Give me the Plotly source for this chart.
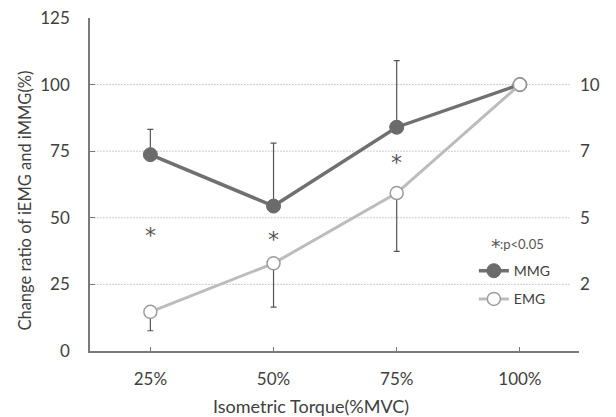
import plotly.graph_objects as go

categories = ["25%", "50%", "75%", "100%"]
mmg = [73.7, 54.4, 84.0, 100.0]
mmg_err_up = [9.5, 23.6, 25.0, 0.0]
emg = [14.7, 32.9, 59.3, 100.0]
emg_err_down = [7.1, 16.4, 21.9, 0.0]
sig_cats = ["25%", "50%", "75%"]
sig_y = [44.5, 42.9, 72.0]
left_ticks = [0, 25, 50, 75, 100, 125]
grid_vals = [25, 50, 75, 100]
right_tickvals = [25, 50, 75, 100]
right_ticktext = ["2", "5", "7", "10"]

FONT = "Lato"
TXT = "#404040"
AX = "#7a7a7a"

fig = go.Figure()
fig.add_trace(go.Scatter(
    x=categories, y=mmg, name="MMG", mode="lines+markers", legendgroup="a",
    line=dict(color="#707070", width=3.5),
    marker=dict(size=14, color="#6b6b6b", line=dict(color="#6b6b6b", width=1)),
    error_y=dict(type="data", symmetric=False, array=mmg_err_up,
                 arrayminus=[0, 0, 0, 0], color="#555555", thickness=1.2, width=3),
))
fig.add_trace(go.Scatter(
    x=categories, y=emg, name="EMG", mode="lines+markers", legendgroup="b",
    line=dict(color="#bcbcbc", width=3),
    marker=dict(size=13, color="white", line=dict(color="#9c9c9c", width=1.5)),
    error_y=dict(type="data", symmetric=False, array=[0, 0, 0, 0],
                 arrayminus=emg_err_down, color="#555555", thickness=1.2, width=3),
))
# invisible trace for right axis
fig.add_trace(go.Scatter(x=categories, y=mmg, yaxis="y2", mode="markers",
                         marker=dict(opacity=0), showlegend=False, hoverinfo="skip"))

for c, v in zip(sig_cats, sig_y):
    fig.add_annotation(x=c, y=v, xref="x", yref="y", text="*", showarrow=False,
                       yshift=-3, font=dict(family="DejaVu Sans", size=22, color="#555555"))

for g in grid_vals:
    fig.add_shape(type="line", xref="paper", yref="y", x0=0.003, x1=0.98, y0=g, y1=g,
                  line=dict(color="#9a9a9a", width=1, dash="1px,2px"), layer="below")

fig.add_annotation(
    xref="paper", yref="paper", x=0.8306, y=0.321, xanchor="center", yanchor="middle",
    text="*", showarrow=False, yshift=-2,
    font=dict(family="DejaVu Sans", size=19, color="#555555"),
)
fig.add_annotation(
    xref="paper", yref="paper", x=0.839, y=0.321, xanchor="left", yanchor="middle",
    text=":p<0.05", showarrow=False, xshift=-2, yshift=0,
    font=dict(family=FONT, size=13, color="#555555"),
)

# axis titles
fig.add_annotation(
    xref="paper", yref="paper", x=0.451, y=-0.165, xanchor="center", yanchor="middle",
    text="Isometric Torque(%MVC)", showarrow=False,
    font=dict(family=FONT, size=18, color=TXT),
)
fig.add_annotation(
    xref="paper", yref="paper", x=-0.1327, y=0.452, xanchor="center", yanchor="middle",
    text="Change ratio of iEMG and iMMG(%)", showarrow=False, textangle=-90,
    font=dict(family=FONT, size=16.5, color=TXT),
)

fig.update_layout(
    width=616, height=417,
    margin=dict(l=90, r=37, t=18, b=66),
    paper_bgcolor="white", plot_bgcolor="white",
    font=dict(family=FONT, color=TXT, size=17),
    xaxis=dict(
        type="category", range=[-0.49, 3.48], showgrid=False,
        showline=True, linecolor=AX, linewidth=1.5,
        ticks="inside", ticklen=4, tickcolor=AX, tickfont=dict(size=17, color=TXT),
        ticklabelstandoff=12, automargin=False,
    ),
    yaxis=dict(
        range=[0, 125], tickvals=left_ticks, showline=True, linecolor=AX,
        linewidth=1.5, showgrid=False, zeroline=False,
        ticks="inside", ticklen=5, tickcolor=AX, tickfont=dict(size=17, color=TXT),
        ticklabelstandoff=15, automargin=False,
    ),
    yaxis2=dict(
        range=[0, 125], overlaying="y", side="right", tickvals=right_tickvals,
        ticktext=right_ticktext, showgrid=False, showline=False, zeroline=False,
        ticks="", tickfont=dict(size=17, color=TXT), automargin=False,
    ),
    legend=dict(
        x=0.785, y=0.288, xanchor="left", yanchor="top", bgcolor="rgba(0,0,0,0)",
        font=dict(family=FONT, size=14, color=TXT), itemwidth=30, tracegroupgap=7,
        traceorder="grouped",
    ),
    showlegend=True,
)

fig.write_html("out.html")
